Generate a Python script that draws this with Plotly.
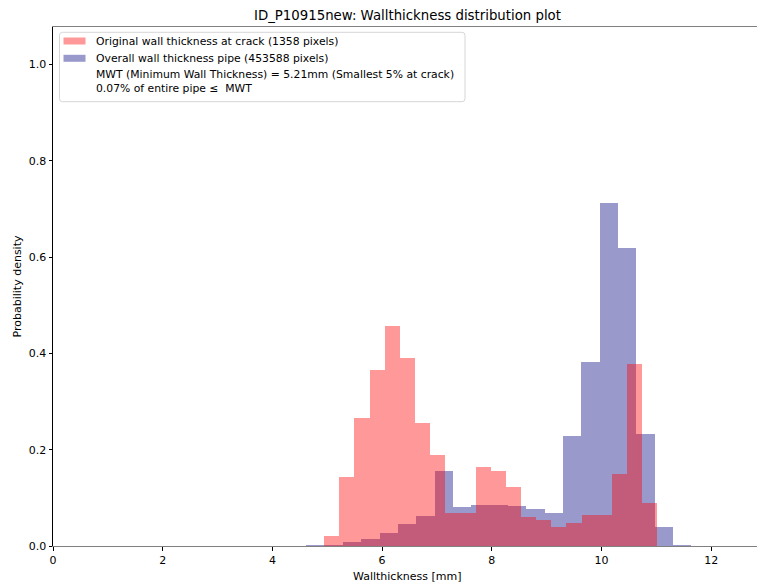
import plotly.graph_objects as go

# ---- data ----
crack_edges = [4.944, 5.220, 5.496, 5.772, 6.048, 6.324, 6.600, 6.876, 7.152, 7.428, 7.704,
               7.980, 8.256, 8.532, 8.808, 9.084, 9.360, 9.636, 9.912, 10.188, 10.464, 10.740, 11.016]
crack_density = [0.021, 0.144, 0.266, 0.366, 0.458, 0.390, 0.256, 0.190, 0.068, 0.068, 0.165,
                 0.156, 0.122, 0.060, 0.053, 0.039, 0.047, 0.064, 0.064, 0.149, 0.377, 0.090]

pipe_edges = [4.616, 4.950, 5.285, 5.619, 5.953, 6.288, 6.622, 6.956, 7.290, 7.625, 7.959,
              8.293, 8.628, 8.962, 9.296, 9.631, 9.965, 10.299, 10.633, 10.968, 11.302, 11.636]
pipe_density = [0.002, 0.003, 0.008, 0.0145, 0.027, 0.045, 0.063, 0.156, 0.080, 0.085, 0.085,
                0.083, 0.076, 0.068, 0.228, 0.383, 0.713, 0.619, 0.232, 0.040, 0.002]

label_crack = "Original wall thickness at crack (1358 pixels)"
label_pipe = "Overall wall thickness pipe (453588 pixels)"
label_mwt = "MWT (Minimum Wall Thickness) = 5.21mm (Smallest 5% at crack)"
label_frac = "0.07% of entire pipe \u2264  MWT"
title_text = "ID_P10915new: Wallthickness distribution plot"
x_label = "Wallthickness [mm]"
y_label = "Probability density"
x_ticks = [0, 2, 4, 6, 8, 10, 12]
y_ticks = [0.0, 0.2, 0.4, 0.6, 0.8, 1.0]

RED = "rgba(255,0,0,0.4)"
NAVY = "rgba(0,0,128,0.4)"
FONT = "DejaVu Sans"


def centers(edges):
    return [(a + b) / 2 for a, b in zip(edges[:-1], edges[1:])]


def widths(edges):
    return [b - a for a, b in zip(edges[:-1], edges[1:])]


fig = go.Figure()
# pipe drawn first, crack on top (as in the reference overlap colour)
fig.add_trace(go.Bar(x=centers(pipe_edges), y=pipe_density, width=widths(pipe_edges),
                     name=label_pipe, marker=dict(color=NAVY, line=dict(width=0)),
                     showlegend=False))
fig.add_trace(go.Bar(x=centers(crack_edges), y=crack_density, width=widths(crack_edges),
                     name=label_crack, marker=dict(color=RED, line=dict(width=0)),
                     showlegend=False))

W, H = 757, 583
ML, MT, MB = 53, 27, 37
plot_w = W - ML
plot_h = H - MT - MB
center_px = 407.5


def px(xp):
    return (xp - ML) / plot_w


def py(yp):
    return 1 - (yp - MT) / plot_h


# ---- legend drawn by hand (matplotlib-like box) ----
bx0, by0, bx1, by1, r = 59.5, 32.3, 465.0, 101.7, 3
box_path = (f"M {px(bx0 + r)} {py(by0)} L {px(bx1 - r)} {py(by0)} "
            f"Q {px(bx1)} {py(by0)} {px(bx1)} {py(by0 + r)} "
            f"L {px(bx1)} {py(by1 - r)} Q {px(bx1)} {py(by1)} {px(bx1 - r)} {py(by1)} "
            f"L {px(bx0 + r)} {py(by1)} Q {px(bx0)} {py(by1)} {px(bx0)} {py(by1 - r)} "
            f"L {px(bx0)} {py(by0 + r)} Q {px(bx0)} {py(by0)} {px(bx0 + r)} {py(by0)} Z")
shapes = [dict(type="path", path=box_path, xref="paper", yref="paper",
               fillcolor="rgba(255,255,255,0.8)", line=dict(color="#d6d6d6", width=1),
               layer="above")]
rows = [(41.0, RED, label_crack), (58.3, NAVY, label_pipe), (75.0, None, label_mwt),
        (88.5, None, label_frac)]
annotations = []
for yc, col, txt in rows:
    if col is not None:
        shapes.append(dict(type="rect", xref="paper", yref="paper",
                           x0=px(63.5), x1=px(85.5), y0=py(yc - 3.5), y1=py(yc + 3.5),
                           fillcolor=col, line=dict(width=0), layer="above"))
    annotations.append(dict(text=txt, x=px(94.3), y=py(yc), xref="paper", yref="paper",
                            xanchor="left", yanchor="middle", showarrow=False,
                            font=dict(family=FONT, size=10.8, color="black")))

annotations.append(dict(text=x_label, x=px(center_px), xref="paper", y=0, yref="paper",
                        yshift=-30.5, xanchor="center", yanchor="middle", showarrow=False,
                        font=dict(family=FONT, size=11, color="black")))

fig.update_layout(
    width=W, height=H,
    margin=dict(l=ML, r=0, t=MT, b=MB, pad=0),
    barmode="overlay", bargap=0,
    plot_bgcolor="white", paper_bgcolor="white",
    font=dict(family=FONT, size=11, color="black"),
    showlegend=False,
    title=dict(text=title_text, x=center_px / W, xref="container", xanchor="center",
               y=1 - 15.5 / H, yref="container", yanchor="middle",
               font=dict(family=FONT, size=13.3, color="black")),
    xaxis=dict(range=[0, (W - ML) / 54.85], tickvals=x_ticks, ticks="outside", ticklen=3.5,
               tickcolor="black", showgrid=False, zeroline=False, showline=True,
               linecolor="#808080", linewidth=1.2, mirror=True,
               tickfont=dict(family=FONT, size=11, color="black")),
    yaxis=dict(range=[0, 1.078], tickvals=y_ticks, tickformat=".1f", ticks="outside",
               ticklen=3.5, tickcolor="black", showgrid=False, zeroline=False,
               showline=True, linecolor="black", linewidth=1,
               title=dict(text=y_label, standoff=4, font=dict(family=FONT, size=11, color="black")),
               tickfont=dict(family=FONT, size=11, color="black")),
    shapes=shapes,
    annotations=annotations,
)

fig.write_html("out.html")
